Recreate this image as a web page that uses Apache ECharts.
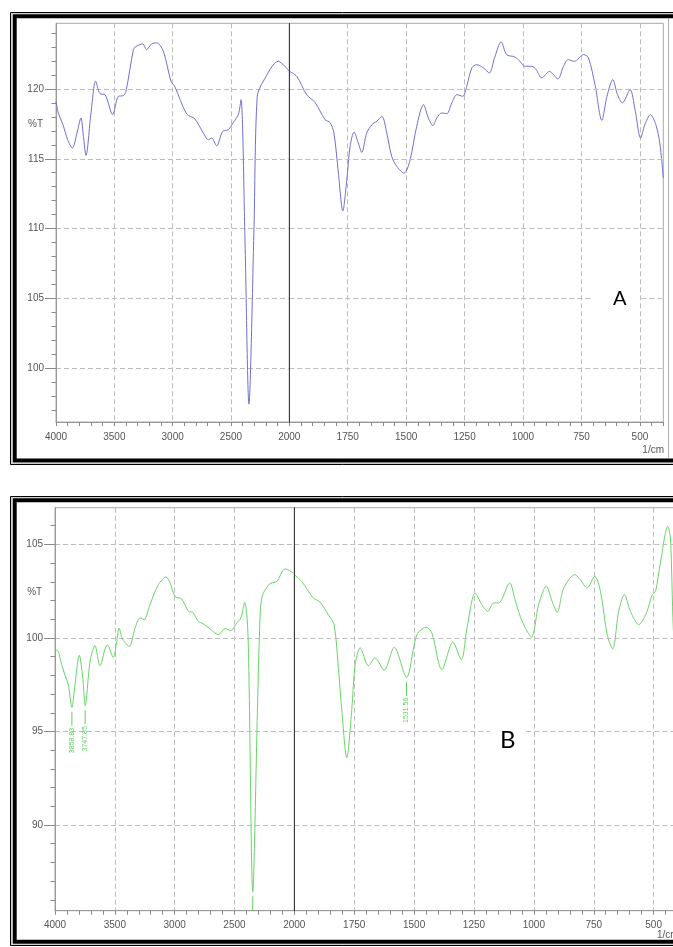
<!DOCTYPE html>
<html>
<head>
<meta charset="utf-8">
<script src="https://cdn.jsdelivr.net/npm/echarts@6/dist/echarts.min.js"></script>
<style>html,body{margin:0;padding:0;background:#fff}#c{width:673px;height:947px}</style>
</head>
<body>
<div id="c"></div>
<script>
// ---------------- DATA ----------------
// Spectrum A (wavenumber 1/cm, %T)
const wavenumbersA = [4000,3980,3940,3900,3860,3820,3786,3765,3743,3700,3660,3623,3580,3514,3466,3423,3400,3337,3323,3257,3223,3180,3137,3080,3014,2980,2880,2809,2737,2694,2666,2623,2571,2523,2480,2437,2414,2380,2346,2303,2275,2223,2094,2000,
  1968,1926,1890,1847,1826,1809,1790,1771,1754,1740,1723,1705,1690,1669,1647,1626,1604,1583,1562,1540,1509,1483,1455,1426,1405,1386,1369,1348,1326,1305,1283,1258,1241,1219,1198,1170,1144,1122,1094,1070,1037,1020,991,962,944,920,887,851,827,807,781,741,720,691,663,641,616,596,575,542,521,497,479,455,432,415,400];
const transmittanceA = [119.11,118.28,117.44,116.36,115.77,116.84,117.92,116.6,115.24,118.28,120.55,119.66,119.59,118.16,119.47,119.52,119.83,122.82,122.98,123.23,122.82,123.23,123.30,122.70,120.55,120.14,118.21,117.85,116.84,116.36,116.48,115.93,116.96,117.08,117.60,118.16,119.23,109.18,97.43,109.9,119.47,120.55,121.98,121.26,
  120.90,119.59,119.04,117.80,117.60,116.84,113.97,111.27,113.49,115.88,116.91,116.13,115.45,116.84,117.44,117.68,118.03,116.84,115.17,114.45,113.97,114.93,117.32,118.87,117.92,117.37,117.92,118.28,118.23,119.00,119.59,119.47,120.19,121.51,121.74,121.51,121.15,122.22,123.37,122.46,122.30,122.10,121.62,121.62,121.38,120.79,121.26,120.72,121.62,122.10,121.98,122.46,122.22,120.19,117.75,119.47,120.67,119.59,119.00,119.95,118.52,116.48,117.44,118.16,117.44,116.13,113.62];

// Spectrum B
const wavenumbersB = [4000,3981,3944,3916,3889,3858.83,3833,3797,3768,3747.85,3707,3666,3624,3563,3513,3484,3465,3434,3379,3331,3289,3256,3206,3136,3072,3038,2997,2941,2885,2849,2802,2760,2704,2635,2579,2531,2481,2447,2414,2386,2347,2308,2292,2272,2208,2146,2077,2008,2000,
  1969,1921,1893,1858,1834,1816,1802,1781,1760,1746,1725,1691,1663,1625,1583,1531.56,1488,1449,1426,1384,1338,1303,1279,1245,1217,1192,1168,1147,1101,1077,1049,1010,980,948,924,903,875,829,806,778,746,722,694,671,646,622,597,562,530,506,492,471,441,430,418,400];
const transmittanceB = [99.34,99.34,98.57,98.00,97.51,96.29,97.51,99.07,97.86,96.38,98.75,99.59,98.52,99.64,98.96,99.82,100.53,99.91,99.55,100.53,101.07,100.98,101.78,102.85,103.26,102.94,102.22,102.08,101.42,101.37,100.89,100.75,100.48,100.18,100.50,100.39,100.80,101.07,101.90,100.0,86.43,96.17,100.0,102.14,102.88,103.02,103.69,103.47,103.38,
  103.02,102.14,101.92,101.24,100.71,98.40,96.17,93.59,96.17,98.57,99.47,98.52,98.93,98.27,99.50,97.90,100.18,100.57,100.27,98.31,99.77,98.84,100.53,102.40,101.78,101.42,101.87,101.87,102.94,101.96,100.89,100.05,101.78,102.76,101.96,101.37,102.67,103.38,103.11,102.67,103.29,102.49,100.18,99.41,101.42,102.31,101.42,100.71,101.34,102.31,102.49,104.09,105.96,105.34,100.53,96.5];

// Peak annotations on B
const peaksB = [3858.83, 3747.85, 1531.56];
const peakLinesB = [2347]; // marker line whose label is cut off

// Tick labels
const xLabelsLeft = [4000, 3500, 3000, 2500, 2000];
const xLabelsRight = [1750, 1500, 1250, 1000, 750, 500];
const yLabelsA = [100, 105, 110, 115, 120];
const yLabelsB = [90, 95, 100, 105];

// ---------------- CHART ----------------
const FONT = 'Liberation Sans';
const LABEL_COLOR = '#555';
const TICK_COLOR = '#8a8a8a';
const SPLIT = {show: true, lineStyle: {color: '#bdbdbd', type: [5, 3], width: 1}};
const plain = (v) => String(v);

function steps(a, b, s) { const r = []; for (let v = a; v <= b + 1e-9; v += s) r.push(Math.round(v * 1000) / 1000); return r; }
function pairs(ws, vs, keep) { const out = []; ws.forEach((w, i) => { if (keep(w)) out.push([w, vs[i]]); }); return out; }
function valueAt(ws, vs, w) { return vs[ws.indexOf(w)]; }

const panels = [
  {l: 56, m: 289.3, r: 663.3, t: 23.3, b: 422, ymin: 96.15, ymax: 124.7, yLabels: yLabelsA,
   w: wavenumbersA, v: transmittanceA, color: '#7070d2', peaks: [], lines: []},
  {l: 55, m: 294.3, r: 677.6, t: 507.7, b: 910.7, ymin: 85.42, ymax: 106.96, yLabels: yLabelsB,
   w: wavenumbersB, v: transmittanceB, color: '#68d468', peaks: peaksB, lines: peakLinesB}
];

const grid = [], xAxis = [], yAxis = [], series = [];

function tickX(g, min, max, vals) {
  return {type: 'value', gridIndex: g, min, max, inverse: true, position: 'bottom',
    axisLine: {show: true, onZero: false, lineStyle: {color: '#999', width: 1}},
    axisTick: {show: true, inside: false, length: 4, customValues: vals, lineStyle: {color: TICK_COLOR}},
    axisLabel: {show: false}, splitLine: {show: false}};
}
function labelX(g, min, max, labels, splits) {
  return {type: 'value', gridIndex: g, min, max, inverse: true, position: 'bottom',
    axisLine: {show: false}, axisTick: {show: false, customValues: splits},
    axisLabel: {show: true, customValues: labels, margin: 10, color: LABEL_COLOR, fontSize: 10, fontFamily: FONT, formatter: plain},
    splitLine: SPLIT};
}

panels.forEach((p) => {
  const gL = grid.length;
  grid.push({left: p.l, top: p.t, width: p.m - p.l, height: p.b - p.t, show: true, borderColor: '#a8a8a8', borderWidth: 1, containLabel: false, outerBoundsMode: 'none'});
  const gR = grid.length;
  grid.push({left: p.m, top: p.t, width: p.r - p.m, height: p.b - p.t, show: true, borderColor: '#a8a8a8', borderWidth: 1, containLabel: false, outerBoundsMode: 'none'});

  const xL = xAxis.length;
  xAxis.push(tickX(gL, 2000, 4000, steps(2000, 4000, 100)));
  xAxis.push(labelX(gL, 2000, 4000, xLabelsLeft, [2500, 3000, 3500]));
  const xR = xAxis.length;
  xAxis.push(tickX(gR, 400, 2000, steps(400, 2000, 50)));
  xAxis.push(labelX(gR, 400, 2000, xLabelsRight, xLabelsRight));

  const yMain = yAxis.length;
  yAxis.push({type: 'value', gridIndex: gL, min: p.ymin, max: p.ymax, position: 'left',
    axisLine: {show: true, onZero: false, lineStyle: {color: '#999', width: 1}},
    axisTick: {show: true, length: 11, customValues: p.yLabels, lineStyle: {color: TICK_COLOR}},
    axisLabel: {show: true, customValues: p.yLabels, margin: 12, color: LABEL_COLOR, fontSize: 10, fontFamily: FONT, formatter: plain},
    splitLine: SPLIT});
  yAxis.push({type: 'value', gridIndex: gL, min: p.ymin, max: p.ymax, position: 'left',
    axisLine: {show: false},
    axisTick: {show: true, length: 4.5, customValues: steps(Math.ceil(p.ymin), Math.floor(p.ymax), 1), lineStyle: {color: TICK_COLOR}},
    axisLabel: {show: false}, splitLine: {show: false}});
  const yR = yAxis.length;
  yAxis.push({type: 'value', gridIndex: gR, min: p.ymin, max: p.ymax, position: 'left', z: 5,
    axisLine: {show: true, onZero: false, lineStyle: {color: '#3a3a3a', width: 1}},
    axisTick: {show: false, customValues: p.yLabels},
    axisLabel: {show: false}, splitLine: SPLIT});

  const markFor = (keepFn) => {
    const data = [];
    p.peaks.filter(keepFn).forEach(w => data.push({coord: [w, valueAt(p.w, p.v, w)], name: w.toFixed(2)}));
    p.lines.filter(keepFn).forEach(w => data.push({coord: [w, valueAt(p.w, p.v, w)], name: '', label: {show: false}}));
    return {
      silent: true, animation: false,
      symbol: 'rect', symbolSize: [1, 14], symbolOffset: [0, 11.5],
      itemStyle: {color: '#5fcf5f'},
      label: {show: true, position: 'bottom', distance: 2, rotate: 90, align: 'right', verticalAlign: 'middle',
        fontSize: 7, fontFamily: FONT, color: '#5fcf5f', formatter: (q) => q.name},
      data
    };
  };

  const common = {type: 'line', showSymbol: false, symbol: 'none', smooth: 0.3, animation: false, silent: true,
    lineStyle: {color: p.color, width: 1}, z: 4};
  series.push(Object.assign({}, common, {xAxisIndex: xL, yAxisIndex: yMain,
    data: pairs(p.w, p.v, w => w >= 2000), markPoint: markFor(w => w >= 2000)}));
  series.push(Object.assign({}, common, {xAxisIndex: xR, yAxisIndex: yR,
    data: pairs(p.w, p.v, w => w <= 2000), markPoint: markFor(w => w < 2000)}));
});

const txt = (x, y, text, extra) => ({type: 'text', x, y, z: 100, silent: true,
  style: Object.assign({text, font: '10px "Liberation Sans"', fill: LABEL_COLOR, align: 'center', verticalAlign: 'middle'}, extra || {})});
const rect = (x, y, w, h, stroke, lw) => ({type: 'rect', z: 100, silent: true, shape: {x, y, width: w, height: h},
  style: {fill: 'none', stroke, lineWidth: lw}});

const graphic = [
  // frame A
  rect(10.5, 12.5, 700, 452, '#000', 1),
  rect(11.5, 13.5, 700, 450, '#cfcfcf', 1),
  rect(14.7, 16.2, 700, 444.3, '#000', 4),
  {type: 'line', z: 100, silent: true, shape: {x1: 668.5, y1: 18, x2: 668.5, y2: 458}, style: {stroke: '#b0b0b0', lineWidth: 1}},
  // frame B
  rect(10.5, 496.5, 700, 449, '#000', 1),
  rect(11.5, 497.5, 700, 447, '#cfcfcf', 1),
  rect(14.7, 500.3, 700, 441.5, '#000', 4),
  // axis names
  txt(35.5, 124.3, '%T'),
  txt(34.7, 592.7, '%T'),
  txt(664, 450, '1/cm', {align: 'right'}),
  txt(678.7, 935, '1/cm', {align: 'right'}),
  // panel letters
  txt(593, 299, 'A', {font: '20px Lato', fill: '#000', align: 'left', backgroundColor: '#fff', padding: [4, 12, 3, 20]}),
  txt(490, 740, 'B', {font: '24px Lato', fill: '#000', align: 'left', backgroundColor: '#fff', padding: [4, 10, 3, 10]})
];

const chart = echarts.init(document.getElementById('c'), null, {renderer: 'canvas', width: 673, height: 947});
chart.setOption({
  backgroundColor: '#fff',
  animation: false,
  grid, xAxis, yAxis, series, graphic
});
</script>
</body>
</html>
